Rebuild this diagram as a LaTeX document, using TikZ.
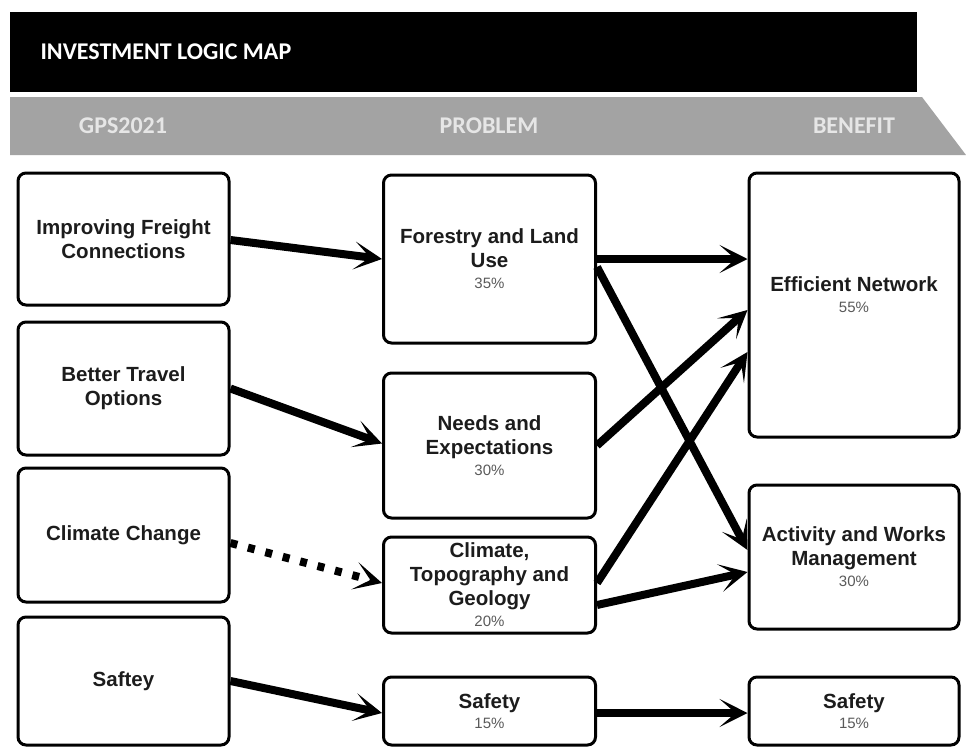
\documentclass[tikz,border=0pt]{standalone}
\usepackage{fontspec}
\setmainfont{Liberation Sans}
\newfontfamily\hdrfont{Carlito}
\usetikzlibrary{arrows.meta}
\definecolor{bandgray}{HTML}{A3A3A3}
\definecolor{hdrtext}{HTML}{E6E6E6}
\definecolor{boxtext}{HTML}{1C1C1C}
\definecolor{pcttext}{HTML}{5A5A5A}
\newcommand{\pct}[1]{{\fontsize{15}{18}\selectfont\mdseries\color{pcttext}#1}}
\tikzset{
  box/.style={draw=black, line width=3pt, rounded corners=8pt, fill=white,
    inner sep=0pt, align=center, text=boxtext,
    font=\fontsize{20.5}{24}\selectfont\bfseries},
  conn/.style={line width=8pt, -{Stealth[length=28pt,width=28pt,inset=16pt]}},
  dotconn/.style={conn, dash pattern=on 7pt off 11pt},
  hdr/.style={font=\hdrfont\fontsize{24}{28}\selectfont\bfseries}
}
\begin{document}
\begin{tikzpicture}[x=1pt,y=-1pt]
\useasboundingbox (0,0) rectangle (966,747);
% header band
\fill[black] (10,12) rectangle (917,92);
\fill[bandgray] (10,97) -- (922,97) -- (966,155) -- (10,155) -- cycle;
\node[hdr, text=white, anchor=west] (title) at (37,52) {INVESTMENT LOGIC MAP};
\node[hdr, text=hdrtext] (hgps) at (123,126) {GPS2021};
\node[hdr, text=hdrtext] (hprob) at (489,126) {PROBLEM};
\node[hdr, text=hdrtext] (hben) at (854,126) {BENEFIT};
% column 1
\node[box, minimum width=211pt, minimum height=132pt] (b1) at (123.5,239) {Improving Freight\\Connections};
\node[box, minimum width=211pt, minimum height=133pt] (b2) at (123.5,388.5) {Better Travel\\Options};
\node[box, minimum width=211pt, minimum height=134pt] (b3) at (123.5,535) {Climate Change};
\node[box, minimum width=211pt, minimum height=128pt] (b4) at (123.5,681) {Saftey};
% column 2
\node[box, minimum width=212pt, minimum height=168pt] (F) at (489.5,259) {Forestry and Land\\Use\\[-3pt]\pct{35\%}};
\node[box, minimum width=212pt, minimum height=145pt] (N) at (489.5,445.5) {Needs and\\Expectations\\[-3pt]\pct{30\%}};
\node[box, minimum width=212pt, minimum height=96pt] (C) at (489.5,585) {Climate,\\Topography and\\Geology\\[-3pt]\pct{20\%}};
\node[box, minimum width=212pt, minimum height=68pt] (S) at (489.5,711) {Safety\\[-4pt]\pct{15\%}};
% column 3
\node[box, minimum width=210pt, minimum height=264pt] (E) at (854,305) {Efficient Network\\[-3pt]\pct{55\%}\\[-4pt]};
\node[box, minimum width=210pt, minimum height=144pt] (A) at (854,557) {Activity and Works\\Management\\[-3pt]\pct{30\%}};
\node[box, minimum width=210pt, minimum height=68pt] (S2) at (854,711) {Safety\\[-4pt]\pct{15\%}};
% connectors
\draw[conn] ([yshift=-1pt]b1.east) -- (F.west);
\draw[conn] (b2.east) -- ([yshift=2pt]N.west);
\draw[dotconn] ([yshift=-8pt]b3.east) -- ([yshift=2pt]C.west);
\draw[conn] (b4.east) -- ([yshift=-2pt]S.west);
\draw[conn] (F.east) -- ([yshift=46pt]E.west);
\draw[conn] ([yshift=-8pt]F.east) -- ([yshift=7pt]A.west);
\draw[conn] (N.east) -- ([yshift=-5pt]E.west);
\draw[conn] ([yshift=2pt]C.east) -- ([yshift=-47pt]E.west);
\draw[conn] ([yshift=-20pt]C.east) -- ([yshift=-15pt]A.west);
\draw[conn] ([yshift=-2pt]S.east) -- ([yshift=-2pt]S2.west);
\end{tikzpicture}
\end{document}
